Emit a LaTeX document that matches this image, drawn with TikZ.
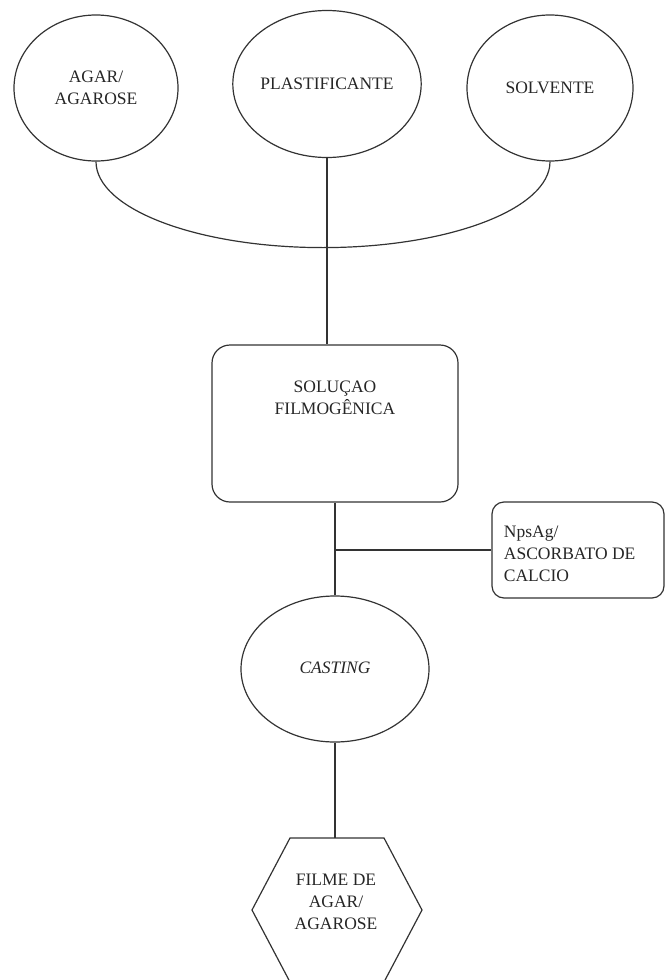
\documentclass[tikz,border=0pt]{standalone}
\usepackage{fontspec}
\setmainfont{Liberation Serif}
\usetikzlibrary{shapes.geometric}
\begin{document}
\begin{tikzpicture}[x=1pt,y=-1pt,
  every node/.style={font=\fontsize{17.5}{22}\selectfont, text=black!85},
  line/.style={draw=black!80, line width=1.2pt},
  oval/.style={ellipse, line, align=center, inner sep=0pt},
  rbox/.style={rectangle, line, rounded corners=18pt},
  sbox/.style={rectangle, line, rounded corners=12pt}]
\useasboundingbox (0,0) rectangle (666,980);
% top ellipses
\node[oval, minimum width=164pt, minimum height=146pt] (agar) at (96,88) {AGAR/\\AGAROSE};
\node[oval, minimum width=163pt, minimum height=147pt] (plast) at (327,84) {PLASTIFICANTE};
\node[oval, minimum width=166pt, minimum height=146pt] (solv) at (550,88) {SOLVENTE};
% joining arc
\draw[line] (agar.south) arc[start angle=180, end angle=0, x radius=227, y radius=86];
% solution box
\node[rbox, minimum width=246pt, minimum height=157pt] (sol) at (335,423.5) {};
\node[align=center, anchor=north] (soltext) at ([yshift=-33pt]sol.north) {SOLUÇAO\\FILMOGÊNICA};
\draw[line] (plast.south) -- (plast.south |- sol.north);
% side box
\node[sbox, minimum width=172pt, minimum height=96pt] (nps) at (578,550) {};
\node[align=left, anchor=west] (npstext) at ([xshift=9pt,yshift=-4pt]nps.west) {NpsAg/\\ASCORBATO DE\\CALCIO};
% casting ellipse
\node[oval, minimum width=188pt, minimum height=146pt] (cast) at (335,669) {\raisebox{3pt}{\itshape CASTING}};
\coordinate (j) at (sol.south |- nps.west);
\draw[line] (sol.south) -- (cast.north);
\draw[line] (j) -- (nps.west);
% hexagon
\coordinate (h1) at (290,838);
\coordinate (h2) at (384,838);
\coordinate (h3) at (422,910);
\coordinate (h4) at (384,982);
\coordinate (h5) at (290,982);
\coordinate (h6) at (252,910);
\draw[line] (h1) -- (h2) -- (h3) -- (h4) -- (h5) -- (h6) -- cycle;
\coordinate (htop) at (cast.south |- h1);
\node[align=center] (film) at (336,902) {FILME DE\\AGAR/\\AGAROSE};
\draw[line] (cast.south) -- (htop);
\end{tikzpicture}
\end{document}
